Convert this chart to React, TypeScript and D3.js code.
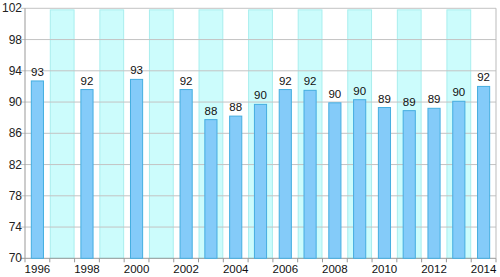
import React from "react";
import * as d3 from "d3";

const years = ["1996","1997","1998","1999","2000","2001","2002","2003","2004","2005","2006","2007","2008","2009","2010","2011","2012","2013","2014"];
const values: (number | null)[] = [92.7, null, 91.6, null, 92.9, null, 91.6, 87.75, 88.2, 89.7, 91.6, 91.5, 89.9, 90.3, 89.3, 88.9, 89.2, 90.1, 92.0];
const labels: (string | null)[] = ["93", null, "92", null, "93", null, "92", "88", "88", "90", "92", "92", "90", "90", "89", "89", "89", "90", "92"];
const bandYears = ["1997","1999","2001","2003","2005","2007","2009","2011","2013"];
const yTicks = [70, 74, 78, 82, 86, 90, 94, 98, 102];
const xTickLabels = ["1996","1998","2000","2002","2004","2006","2008","2010","2012","2014"];

export default function App() {
  const W = 500, H = 277;
  const left = 25, right = 496, top = 8.3, bottom = 258.3;
  const x = d3.scaleBand<string>().domain(years).range([left, right]).paddingInner(0).paddingOuter(0);
  const y = d3.scaleLinear().domain([70, 102]).range([bottom, top]);
  const bw = x.bandwidth();
  const barW = bw * 0.49;
  const font = "Liberation Sans, Arial, sans-serif";
  return (
    <svg width={W} height={H} style={{ position: "absolute", left: 0, top: 0, background: "#fff" }}>
      {bandYears.map((yr) => (
        <rect key={"b" + yr} x={(x(yr) as number) + 0.5} y={y(101.8)} width={bw - 1} height={bottom - y(101.8)}
          fill="#ccfcfc" stroke="#a9eeee" strokeWidth={1} />
      ))}
      {yTicks.map((t) => (
        <g key={"g" + t}>
          <line x1={left - 4} x2={right} y1={y(t)} y2={y(t)} stroke={t === 70 ? "#999" : "#c4c4c4"} strokeWidth={1} />
          <text x={22} y={y(t) + 4} fontSize={12} fontFamily={font} textAnchor="end" fill="#222">{t}</text>
        </g>
      ))}
      <line x1={left} x2={left} y1={top} y2={bottom} stroke="#999" />
      <line x1={right} x2={right} y1={top} y2={bottom} stroke="#bbb" />
      {years.map((yr, i) => {
        const v = values[i];
        if (v == null) return null;
        const cx = (x(yr) as number) + bw / 2;
        return (
          <g key={"bar" + yr}>
            <rect x={cx - barW / 2} y={y(v)} width={barW} height={bottom - y(v)} fill="#84cbf9" stroke="#45aee0" strokeWidth={1} />
            <text x={cx} y={y(v) - 5} fontSize={11.5} fontFamily={font} textAnchor="middle" fill="#111">{labels[i]}</text>
          </g>
        );
      })}
      {years.map((yr) => (
        <line key={"t" + yr} x1={x(yr) as number} x2={x(yr) as number} y1={bottom} y2={bottom + 4} stroke="#999" />
      ))}
      <line x1={right} x2={right} y1={bottom} y2={bottom + 4} stroke="#999" />
      {xTickLabels.map((yr) => (
        <text key={"xl" + yr} x={(x(yr) as number) + bw / 2} y={bottom + 15} fontSize={11.5} fontFamily={font} textAnchor="middle" fill="#111">{yr}</text>
      ))}
    </svg>
  );
}
